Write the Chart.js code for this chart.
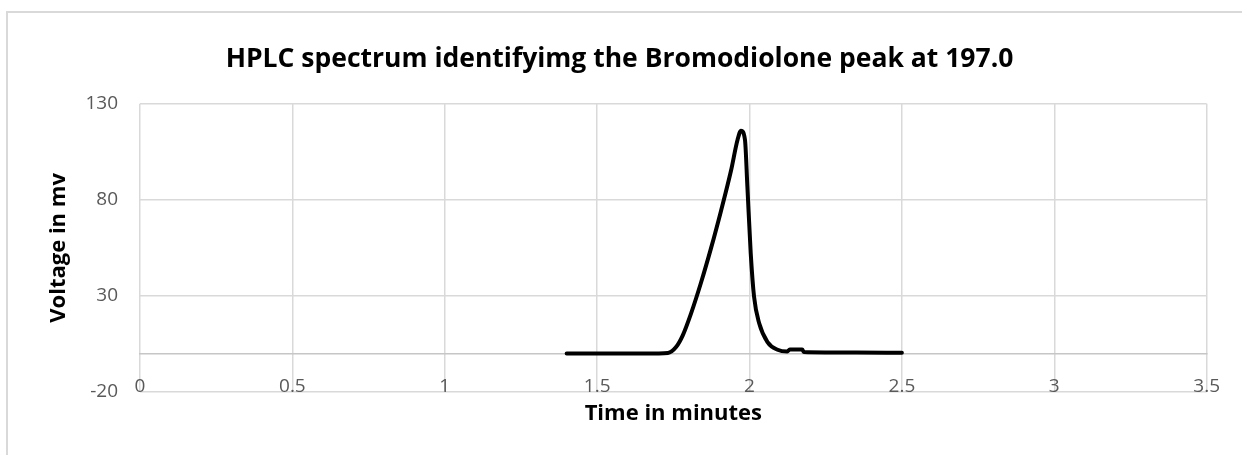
<!DOCTYPE html>
<html>
<head>
<meta charset="utf-8">
<script src="https://cdn.jsdelivr.net/npm/chart.js@4.4.1/dist/chart.umd.min.js"></script>
<style>
  body { margin: 0; background: #fff; overflow: hidden; }
  #frame { position: absolute; left: 6px; top: 11px; width: 1300px; height: 500px; border: 2px solid #d9d9d9; }
  #hplc { position: absolute; left: 0; top: 0; }
</style>
</head>
<body>
<div id="frame"></div>
<canvas id="hplc" width="1242" height="455"></canvas>
<script>
// retention time (min) and detector voltage (mV)
var times = [1.40, 1.50, 1.60, 1.70, 1.732, 1.759, 1.781, 1.808, 1.841, 1.874, 1.906, 1.939,
  1.961, 1.972, 1.985, 1.993, 2.004, 2.015, 2.032, 2.059, 2.092, 2.124, 2.132, 2.173,
  2.178, 2.25, 2.35, 2.50];
var voltages = [0, 0, 0, 0.1, 0.3, 3.4, 9.5, 20.8, 37, 55, 74, 95,
  111.4, 116, 111.4, 87, 52.2, 29.5, 15.6, 6, 2, 1.1, 2.1, 2.1,
  0.8, 0.6, 0.5, 0.4];

var xTicks = [0, 0.5, 1, 1.5, 2, 2.5, 3, 3.5];
var yTicks = [-20, 30, 80, 130];

var points = times.map(function (t, i) { return { x: t, y: voltages[i] }; });

Chart.defaults.font.family = "'Open Sans', sans-serif";
Chart.defaults.color = "#595959";

var ctx = document.getElementById("hplc").getContext("2d");
var hplcChart = new Chart(ctx, {
  type: "scatter",
  data: {
    datasets: [
      {
        data: points,
        showLine: true,
        borderColor: "#000",
        borderWidth: 4,
        pointRadius: 0,
        cubicInterpolationMode: "monotone",
        borderCapStyle: "round",
      },
    ],
  },
  options: {
    responsive: false,
    animation: false,
    devicePixelRatio: 1,
    layout: { padding: { top: 0, right: 31, bottom: 63, left: 28 } },
    plugins: {
      legend: { display: false },
      tooltip: { enabled: false },
      title: {
        display: true,
        text: "HPLC spectrum identifyimg the Bromodiolone peak at 197.0",
        color: "#000",
        font: { size: 26.5, weight: "bold" },
        padding: { top: 44, bottom: 28 },
      },
    },
    scales: {
      x: {
        type: "linear",
        position: { y: 0 },
        min: xTicks[0],
        max: xTicks[xTicks.length - 1],
        afterBuildTicks: function (s) { s.ticks = xTicks.map(function (v) { return { value: v }; }); },
        afterFit: function (s) { s.height = 63; },
        grid: { color: "#d9d9d9", lineWidth: 1.5, drawTicks: false },
        border: { color: "#c6c6c6", width: 1.5 },
        ticks: {
          padding: 22,
          font: { size: 19 },
          maxRotation: 0,
          callback: function (v) { return String(v); },
        },
        title: {
          display: true,
          text: "Time in minutes",
          color: "#000",
          font: { size: 22, weight: "bold" },
          padding: { top: 0, bottom: -10 },
        },
      },
      y: {
        min: yTicks[0],
        max: yTicks[yTicks.length - 1],
        afterBuildTicks: function (s) { s.ticks = yTicks.map(function (v) { return { value: v }; }); },
        afterFit: function (s) { s.width = 112; },
        grid: { color: "#d9d9d9", lineWidth: 1.5, drawTicks: false },
        border: { display: false },
        ticks: { padding: 22, font: { size: 19 } },
        title: {
          display: true,
          text: "Voltage in mv",
          color: "#000",
          font: { size: 22, weight: "bold" },
          padding: { top: 18, bottom: 0 },
        },
      },
    },
  },
});
</script>
</body>
</html>
